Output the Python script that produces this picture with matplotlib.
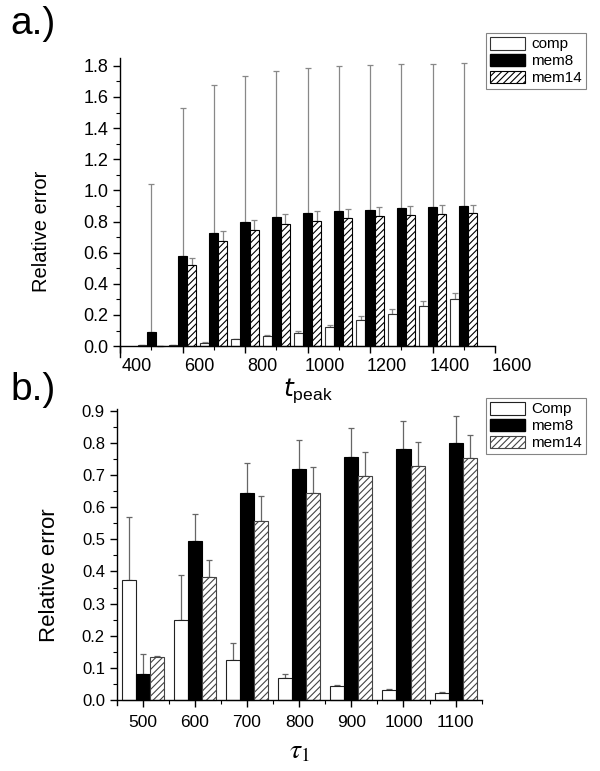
import matplotlib
matplotlib.use("Agg")
import matplotlib.pyplot as plt
import matplotlib.transforms as mtransforms
from matplotlib.ticker import MultipleLocator, FixedLocator
from matplotlib.patches import Patch
import numpy as np

plt.rcParams['font.family'] = ['Liberation Sans', 'DejaVu Sans']
plt.rcParams['hatch.linewidth'] = 0.8

# ---------------- data: panel a ----------------
tpeak = [500, 600, 700, 800, 900, 1000, 1100, 1200, 1300, 1400, 1500]
a_comp = [0.010, 0.005, 0.022, 0.043, 0.067, 0.086, 0.125, 0.168, 0.203, 0.259, 0.302]
a_comp_err = [0.0, 0.0, 0.003, 0.003, 0.004, 0.013, 0.011, 0.026, 0.035, 0.028, 0.039]
a_mem8 = [0.093, 0.579, 0.726, 0.795, 0.829, 0.853, 0.870, 0.877, 0.886, 0.892, 0.898]
a_mem8_err = [0.947, 0.951, 0.949, 0.939, 0.939, 0.930, 0.926, 0.928, 0.923, 0.921, 0.922]
a_mem14 = [0.003, 0.518, 0.676, 0.747, 0.784, 0.806, 0.825, 0.834, 0.845, 0.851, 0.857]
a_mem14_err = [0.0, 0.050, 0.065, 0.063, 0.065, 0.062, 0.056, 0.058, 0.053, 0.056, 0.052]
a_xticks = [400, 600, 800, 1000, 1200, 1400, 1600]
a_labels = ['comp', 'mem8', 'mem14']

# ---------------- data: panel b ----------------
tau = [500, 600, 700, 800, 900, 1000, 1100]
b_comp = [0.374, 0.249, 0.126, 0.069, 0.044, 0.033, 0.022]
b_comp_err = [0.195, 0.139, 0.052, 0.013, 0.002, 0.001, 0.002]
b_mem8 = [0.080, 0.496, 0.645, 0.717, 0.757, 0.782, 0.800]
b_mem8_err = [0.065, 0.083, 0.092, 0.091, 0.088, 0.085, 0.082]
b_mem14 = [0.135, 0.384, 0.558, 0.645, 0.696, 0.729, 0.752]
b_mem14_err = [0.003, 0.051, 0.077, 0.081, 0.076, 0.072, 0.072]
b_labels = ['Comp', 'mem8', 'mem14']

fig = plt.figure(figsize=(6.0, 7.71), dpi=100)

def style_axes(ax):
    for s in ['top', 'right']:
        ax.spines[s].set_visible(False)
    ax.spines['bottom'].set_position(('data', 0))
    ax.spines['left'].set_linewidth(1.0)
    ax.spines['bottom'].set_linewidth(1.0)
    ax.tick_params(which='major', direction='out', length=5, width=1.0)
    ax.tick_params(which='minor', direction='out', length=3, width=0.8)

def draw_groups(ax, x, comp, comp_err, mem8, mem8_err, mem14, mem14_err, w,
                edge_comp, hatch_col, ecol):
    x = np.asarray(x, dtype=float)
    ax.bar(x - w, comp, w, facecolor='white', edgecolor=edge_comp, linewidth=0.8, zorder=2)
    ax.bar(x, mem8, w, facecolor='black', edgecolor='black', linewidth=0.8, zorder=2)
    ax.bar(x + w, mem14, w, facecolor='white', edgecolor=hatch_col, hatch='/////',
           linewidth=0.8, zorder=2)
    for xs, ys, es in [(x - w, comp, comp_err), (x, mem8, mem8_err), (x + w, mem14, mem14_err)]:
        ax.errorbar(xs, ys, yerr=[np.zeros(len(es)), es], fmt='none', ecolor=ecol,
                    elinewidth=0.9, capsize=2.2, capthick=0.9, zorder=1)

# ---------------- panel a ----------------
axa = fig.add_axes([120/600, 1-357/771, 375/600, 299/771])
draw_groups(axa, tpeak, a_comp, a_comp_err, a_mem8, a_mem8_err, a_mem14, a_mem14_err,
            29, '#333333', 'black', '#888888')
axa.set_xlim(400, 1600)
axa.set_ylim(-0.07, 1.85)
style_axes(axa)
axa.xaxis.set_major_locator(FixedLocator(a_xticks))
axa.xaxis.set_minor_locator(MultipleLocator(100))
axa.set_yticks(np.arange(0, 1.81, 0.2))
axa.yaxis.set_minor_locator(MultipleLocator(0.1))
axa.yaxis.set_major_formatter(matplotlib.ticker.FormatStrFormatter('%.1f'))
axa.tick_params(labelsize=13)
offset = mtransforms.ScaledTranslation(17/100, 0, fig.dpi_scale_trans)
for lab in axa.xaxis.get_majorticklabels():
    lab.set_transform(lab.get_transform() + offset)
axa.set_ylabel('Relative error', fontsize=14.5)
axa.yaxis.set_label_coords(-0.185, 0.42)
axa.set_xlabel(r'$t_{\mathregular{peak}}$', fontsize=18, labelpad=1)

ha = [Patch(facecolor='white', edgecolor='#333333', linewidth=0.8),
      Patch(facecolor='black', edgecolor='black'),
      Patch(facecolor='white', edgecolor='black', hatch='/////', linewidth=0.8)]
leg = fig.legend(ha, a_labels, loc='upper left', bbox_to_anchor=(486/600, 1-33/771),
                 fontsize=11, frameon=True, fancybox=False, edgecolor='#666666',
                 handlelength=2.3, handleheight=0.9, handletextpad=0.4,
                 borderpad=0.25, labelspacing=0.15, borderaxespad=0)
leg.get_frame().set_linewidth(0.8)

# ---------------- panel b ----------------
axb = fig.add_axes([116.7/600, 1-705/771, 365/600, 296/771])
draw_groups(axb, tau, b_comp, b_comp_err, b_mem8, b_mem8_err, b_mem14, b_mem14_err,
            27, '#222222', '#444444', '#666666')
axb.set_xlim(450, 1150)
axb.set_ylim(-0.015, 0.905)
style_axes(axb)
axb.set_xticks(tau)
axb.xaxis.set_minor_locator(FixedLocator(np.arange(550, 1151, 100)))
axb.set_yticks(np.arange(0, 0.91, 0.1))
axb.yaxis.set_minor_locator(MultipleLocator(0.05))
axb.yaxis.set_major_formatter(matplotlib.ticker.FormatStrFormatter('%.1f'))
axb.tick_params(labelsize=12)
axb.tick_params(axis='x', labelsize=12.5, pad=6)
axb.set_ylabel('Relative error', fontsize=16)
axb.yaxis.set_label_coords(-0.155, 0.44)
axb.set_xlabel(r'$\tau_1$', fontsize=20, math_fontfamily='stix', labelpad=6)

hb = [Patch(facecolor='white', edgecolor='#222222', linewidth=0.8),
      Patch(facecolor='black', edgecolor='black'),
      Patch(facecolor='white', edgecolor='#444444', hatch='/////', linewidth=0.8)]
legb = fig.legend(hb, b_labels, loc='upper left', bbox_to_anchor=(486/600, 1-398/771),
                  fontsize=11, frameon=True, fancybox=False, edgecolor='#666666',
                  handlelength=2.3, handleheight=0.9, handletextpad=0.4,
                  borderpad=0.25, labelspacing=0.15, borderaxespad=0)
legb.get_frame().set_linewidth(0.8)

fig.text(10/600, 1-6/771, 'a.)', fontsize=28, va='top', ha='left')
fig.text(10/600, 1-372/771, 'b.)', fontsize=28, va='top', ha='left')

fig.savefig('out.png', dpi=100)
